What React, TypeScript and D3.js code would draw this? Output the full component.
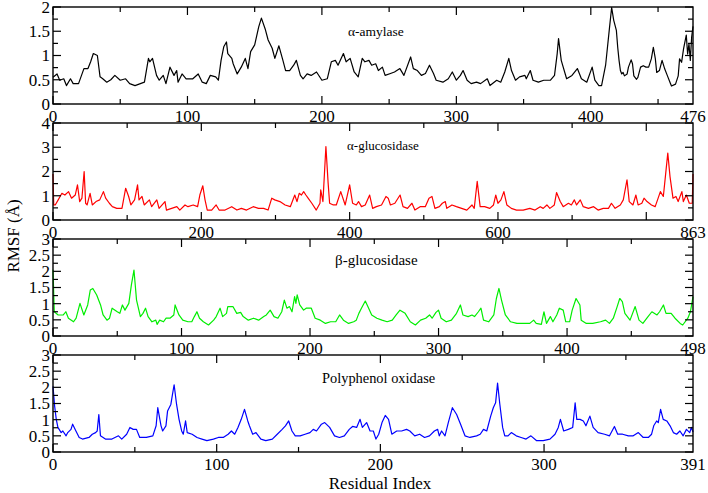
import React from "react";
import * as d3 from "d3";

// ---------- data (residue index, RMSF in Å) ----------
const amylase: [number, number][] = [
  [0,0.55],[3,0.62],[5,0.49],[8,0.52],[10,0.38],[13,0.52],[15,0.42],[19,0.42],[23,0.73],[26,0.73],[28,0.87],[30,1.04],[33,1.0],[35,0.56],[37,0.52],[40,0.45],[43,0.5],[46,0.59],[50,0.49],[54,0.52],[57,0.42],[61,0.38],[65,0.42],[68,0.45],[71,0.94],[72,0.87],[74,0.94],[77,0.59],[79,0.49],[82,0.59],[84,0.42],[87,0.76],[90,0.59],[92,0.69],[93,0.45],[96,0.62],[99,0.52],[104,0.52],[108,0.62],[111,0.45],[114,0.42],[117,0.59],[121,0.56],[123,0.49],[125,0.9],[127,1.18],[129,1.28],[130,1.04],[133,0.94],[134,0.83],[137,0.62],[140,0.76],[143,0.94],[145,0.73],[147,1.08],[150,1.22],[153,1.59],[155,1.77],[158,1.53],[160,1.32],[163,1.15],[165,0.94],[168,1.2],[171,0.9],[173,0.69],[176,0.69],[179,0.8],[181,0.9],[184,0.59],[186,0.52],[189,0.62],[192,0.59],[196,0.66],[200,0.49],[204,0.52],[207,0.87],[210,0.9],[212,0.8],[216,1.04],[218,0.87],[221,0.94],[224,0.66],[227,0.56],[230,0.94],[232,0.87],[235,0.9],[237,0.8],[240,0.83],[242,0.69],[245,0.76],[247,0.59],[251,0.63],[254,0.66],[258,0.73],[261,0.59],[266,0.97],[268,0.73],[271,0.69],[274,0.59],[277,0.63],[280,0.8],[283,0.63],[285,0.49],[290,0.45],[294,0.52],[297,0.66],[300,0.49],[303,0.59],[305,0.69],[308,0.49],[311,0.42],[315,0.45],[318,0.42],[323,0.52],[325,0.38],[330,0.49],[333,0.45],[336,0.66],[339,0.94],[341,0.69],[344,0.49],[347,0.56],[351,0.59],[352,0.52],[355,0.69],[357,0.49],[361,0.45],[365,0.49],[370,0.49],[373,0.59],[375,1.04],[376,1.35],[378,0.9],[382,0.52],[386,0.59],[390,0.73],[393,0.52],[397,0.45],[401,0.76],[403,0.49],[406,0.38],[408,0.38],[411,0.8],[414,1.6],[415.5,1.99],[417,1.73],[419,1.52],[420,1.17],[421,0.9],[422,0.69],[423,0.62],[424,0.65],[425,0.58],[427,0.62],[428,0.76],[430,0.91],[431,0.83],[432,0.58],[434,0.51],[435,0.55],[437,0.76],[439,0.79],[441,0.76],[443,0.76],[445,0.93],[446.5,1.17],[448,0.93],[449,0.65],[451,0.69],[453,0.9],[455,0.72],[457,0.58],[459,0.44],[460,0.37],[463,0.41],[465,0.58],[466,0.93],[467.5,0.86],[469,1.14],[471,1.42],[472,1.03],[473,1.24],[474,0.9],[475,1.38],[476,1.6],
];

const alphaGlucosidase: [number, number][] = [
  [0,1.9],[1,0.62],[3,0.62],[7,0.83],[12,1.1],[16,1.03],[21,1.17],[25,0.9],[30,1.03],[33,1.45],[36,0.76],[39,0.9],[42,2.0],[44,0.69],[46,0.62],[50,1.1],[53,0.62],[58,0.76],[63,0.83],[68,1.17],[71,0.9],[76,0.69],[80,0.55],[86,0.48],[93,0.48],[98,1.31],[102,0.97],[105,0.62],[110,0.83],[114,1.45],[116,0.83],[120,0.97],[123,0.62],[130,0.83],[133,0.55],[140,0.83],[143,0.48],[151,0.76],[153,0.41],[160,0.48],[167,0.55],[171,0.41],[178,0.62],[182,0.55],[189,0.62],[195,0.55],[198,1.03],[202,1.41],[205,0.83],[208,0.41],[214,0.41],[220,0.62],[224,0.41],[232,0.41],[241,0.55],[248,0.41],[254,0.48],[261,0.41],[270,0.55],[277,0.48],[284,0.48],[290,0.41],[295,0.9],[299,0.83],[306,0.76],[313,0.62],[320,0.55],[326,1.03],[329,0.76],[332,1.1],[335,1.03],[338,1.17],[341,1.03],[344,0.9],[349,0.69],[355,0.41],[360,0.69],[361,1.24],[364,0.76],[368,3.03],[371,1.52],[373,0.69],[378,0.62],[382,0.62],[388,1.17],[394,0.62],[400,1.45],[404,0.69],[409,0.62],[412,0.76],[416,0.55],[421,0.62],[427,1.03],[431,0.48],[436,0.55],[443,0.62],[449,0.97],[452,0.9],[455,0.62],[461,0.69],[468,1.03],[472,0.55],[478,0.48],[484,0.69],[488,0.41],[495,0.55],[502,0.55],[507,0.9],[511,0.97],[515,0.48],[521,0.55],[525,0.69],[529,0.76],[531,0.48],[538,0.62],[544,0.55],[551,0.48],[558,0.41],[565,0.62],[568,0.48],[572,1.59],[576,0.55],[582,0.55],[589,0.48],[594,0.62],[597,1.03],[600,0.69],[604,0.83],[608,1.17],[612,0.62],[618,0.48],[625,0.41],[634,0.41],[643,0.48],[650,0.41],[657,0.55],[661,0.48],[666,0.62],[670,0.48],[676,0.62],[679,1.13],[684,0.76],[688,0.55],[695,0.69],[699,0.62],[703,0.83],[706,0.62],[711,0.83],[715,0.55],[722,0.48],[729,0.55],[735,0.41],[742,0.48],[749,0.48],[753,0.69],[758,0.48],[765,0.62],[769,0.83],[774,1.66],[777,0.76],[782,0.62],[786,1.03],[789,0.62],[794,0.69],[797,0.9],[801,0.76],[807,0.62],[812,0.55],[816,0.9],[819,1.17],[823,0.97],[826,1.86],[829,2.76],[832,1.79],[836,0.9],[840,0.97],[843,0.76],[848,1.17],[850,0.76],[854,1.03],[858,0.69],[862,0.69],[863,1.9],
];

const betaGlucosidase: [number, number][] = [
  [0,2.05],[1,0.75],[4,0.65],[8,0.65],[10,0.75],[12,0.55],[16,0.44],[18,0.55],[21,1.01],[24,0.65],[27,0.96],[29,1.42],[31,1.47],[34,1.27],[37,0.96],[39,0.65],[42,0.49],[44,0.55],[46,0.86],[50,0.75],[52,0.7],[54,0.96],[56,0.8],[59,1.01],[61,1.58],[63,2.04],[65,1.11],[68,0.6],[70,0.7],[72,0.86],[74,0.6],[77,0.44],[80,0.49],[81,0.36],[83,0.49],[86,0.44],[88,0.55],[91,0.55],[94,0.65],[95,0.96],[98,0.65],[101,0.49],[105,0.44],[108,0.44],[110,0.6],[112,0.75],[114,0.55],[117,0.44],[121,0.34],[125,0.49],[127,0.6],[130,0.86],[132,0.6],[135,0.7],[136,0.91],[140,0.91],[143,0.7],[146,0.73],[148,0.6],[152,0.49],[156,0.55],[160,0.49],[164,0.6],[166,0.65],[169,0.8],[172,0.6],[175,0.55],[178,0.75],[180,1.11],[182,0.86],[184,0.91],[186,0.75],[188,1.22],[189,1.01],[190,1.27],[192,0.96],[195,0.8],[197,0.86],[201,0.86],[204,0.55],[208,0.49],[212,0.39],[216,0.44],[220,0.44],[223,0.65],[226,0.49],[230,0.39],[234,0.44],[236,0.49],[238,0.7],[240,0.86],[243,1.08],[245,0.91],[248,0.65],[252,0.55],[256,0.49],[260,0.44],[264,0.49],[267,0.65],[270,0.8],[274,0.7],[278,0.44],[282,0.34],[286,0.49],[290,0.55],[293,0.65],[295,0.55],[298,0.73],[300,0.8],[302,0.55],[306,0.44],[310,0.49],[314,0.7],[317,0.96],[319,0.65],[323,0.6],[326,0.65],[328,0.6],[331,0.75],[333,0.86],[335,0.49],[339,0.44],[343,0.65],[345,1.16],[347,1.47],[349,1.11],[352,0.65],[356,0.44],[361,0.39],[366,0.39],[371,0.39],[374,0.49],[376,0.39],[380,0.36],[382,0.75],[384,0.39],[387,0.6],[389,0.44],[392,0.65],[394,0.86],[397,0.8],[399,0.44],[402,0.44],[404,0.8],[407,1.16],[410,0.96],[411,0.49],[415,0.39],[420,0.39],[426,0.44],[430,0.49],[433,0.39],[436,0.55],[439,0.91],[441,1.16],[443,1.06],[445,0.7],[449,0.49],[453,0.91],[456,0.49],[459,0.39],[463,0.6],[466,0.75],[470,0.65],[472,0.75],[475,0.96],[477,0.7],[481,0.7],[484,0.55],[488,0.39],[490,0.34],[494,0.55],[496,0.75],[498,1.22],
];

const polyphenolOxidase: [number, number][] = [
  [0,2.03],[1,1.42],[2,1.01],[3,0.76],[5,0.6],[6,0.65],[8,0.5],[9,0.6],[11,0.7],[12,0.86],[14,0.65],[16,0.45],[18,0.4],[22,0.45],[24,0.55],[26,0.6],[27,0.65],[28,1.16],[29,0.5],[32,0.4],[36,0.4],[40,0.5],[42,0.4],[45,0.55],[47,0.76],[49,0.7],[51,0.7],[53,0.45],[57,0.45],[61,0.5],[63,0.81],[64,1.37],[66,0.81],[67,0.65],[69,0.81],[70,1.27],[72,1.47],[73,1.78],[74,2.08],[75.5,1.47],[77,1.01],[78.6,0.65],[79.6,0.55],[81,0.96],[82,0.6],[85,0.55],[88,0.45],[91,0.4],[94,0.35],[98,0.4],[101,0.45],[104,0.45],[107,0.55],[109,0.65],[111,0.55],[113,0.76],[115,1.01],[117,1.32],[119,0.96],[120,0.81],[122,0.55],[124,0.6],[127,0.4],[130,0.35],[134,0.4],[137,0.55],[140,0.7],[142,0.81],[144,0.96],[146,0.65],[148,0.5],[151,0.5],[154,0.55],[157,0.6],[159,0.7],[161,0.65],[164,0.86],[166,0.91],[169,0.76],[172,0.5],[175,0.45],[178,0.5],[181,0.7],[183,0.79],[185.5,0.76],[187.6,1.01],[189,0.76],[191.6,0.91],[193.7,0.65],[195.7,0.65],[197.3,0.4],[199,0.55],[201,0.91],[203,1.13],[205,1.01],[207,0.55],[210,0.65],[213,0.65],[216,0.7],[218,0.65],[221,0.5],[224,0.55],[227,0.45],[230,0.5],[233,0.65],[235,0.7],[236,0.5],[237.4,0.65],[239.5,0.5],[241.5,0.91],[244,1.37],[246.6,1.16],[249,0.86],[251.7,0.5],[254.7,0.45],[258.8,0.5],[261,0.55],[263,0.7],[265,0.65],[267.4,1.11],[269,1.37],[270.4,1.52],[271.6,2.13],[273,1.47],[274.7,0.76],[276,0.5],[278,0.5],[280,0.6],[283,0.5],[286,0.45],[289,0.4],[292,0.5],[295.5,0.35],[299.5,0.35],[303.6,0.4],[306.7,0.55],[308.7,0.76],[310,1.01],[312,0.65],[314.8,0.7],[317.5,0.76],[319,1.52],[320,1.01],[322,1.01],[324,0.96],[325.6,0.81],[328,1.11],[330,0.76],[333,0.6],[337,0.55],[340,0.5],[343,0.79],[345,0.55],[348,0.55],[351.5,0.5],[354.5,0.5],[357.6,0.6],[360.6,0.45],[363.7,0.45],[365.7,0.55],[367,0.81],[368.8,0.96],[369.8,0.91],[371.2,1.32],[372.8,1.01],[375,0.96],[377,0.81],[379,0.6],[381,0.55],[383,0.65],[385,0.5],[387,0.7],[389,0.6],[390,0.76],[391,0.62],
];

const seriesData = [amylase, alphaGlucosidase, betaGlucosidase, polyphenolOxidase];
const titles = ["α-amylase", "α-glucosidase", "β-glucosidase", "Polyphenol oxidase"];
const xMaxes = [476, 863, 498, 391];
const yMaxes = [2, 4, 3, 3];
const yLabelSteps = [0.5, 1, 0.5, 0.5];
const xLabelSteps = [100, 200, 100, 100];
const yAxisTitle = "RMSF (Å)";
const xAxisTitle = "Residual Index";

// ---------- styling ----------
const colors = ["#000000", "#ff0000", "#00ee00", "#0000ff"];
const titleX = [348, 347, 335, 322];
const titleDy = [29, 27, 26, 28];
const titleSize = [13.5, 13, 15, 14.4];

const W = 708;
const H = 493;
const LEFT = 53;
const RIGHT = 693;
const TOPS = [7, 123, 239, 355];
const PH = 97;
const FONT = "'Liberation Serif', 'Times New Roman', Times, serif";
const MAJOR = 8;
const MINOR = 5;

function fmt(v: number) {
  return String(+v.toFixed(2));
}

function Panel({ i }: { i: number }) {
  const top = TOPS[i];
  const bottom = top + PH;
  const xMax = xMaxes[i];
  const yMax = yMaxes[i];
  const x = d3.scaleLinear().domain([0, xMax]).range([LEFT, RIGHT]);
  const y = d3.scaleLinear().domain([0, yMax]).range([bottom, top]);
  const line = d3
    .line<[number, number]>()
    .x((d) => x(d[0]))
    .y((d) => y(d[1]));

  const xs = xLabelSteps[i];
  const xMajor = d3.range(0, xMax + 0.001, xs);
  const xMinor = d3.range(xs / 2, xMax, xs);
  const ys = yLabelSteps[i];
  const yMajor = d3.range(0, yMax + 0.001, ys);
  const yMinor = d3.range(ys / 2, yMax, ys);
  const xLabels = [...xMajor.filter((v) => xMax - v > xs * 0.4), xMax];

  return (
    <g>
      <path d={line(seriesData[i]) || ""} fill="none" stroke={colors[i]} strokeWidth={1.2} strokeLinejoin="round" />
      <rect x={LEFT} y={top} width={RIGHT - LEFT} height={PH} fill="none" stroke="#000" strokeWidth={1.4} />
      {xMajor.map((v) => (
        <g key={"xM" + v}>
          <line x1={x(v)} x2={x(v)} y1={bottom} y2={bottom - MAJOR} stroke="#000" strokeWidth={1.2} />
          <line x1={x(v)} x2={x(v)} y1={top} y2={top + MAJOR} stroke="#000" strokeWidth={1.2} />
        </g>
      ))}
      {xMinor.map((v) => (
        <g key={"xm" + v}>
          <line x1={x(v)} x2={x(v)} y1={bottom} y2={bottom - MINOR} stroke="#000" strokeWidth={1.2} />
          <line x1={x(v)} x2={x(v)} y1={top} y2={top + MINOR} stroke="#000" strokeWidth={1.2} />
        </g>
      ))}
      {yMajor.map((v) => (
        <g key={"yM" + v}>
          <line x1={LEFT} x2={LEFT + MAJOR} y1={y(v)} y2={y(v)} stroke="#000" strokeWidth={1.2} />
          <line x1={RIGHT} x2={RIGHT - MAJOR} y1={y(v)} y2={y(v)} stroke="#000" strokeWidth={1.2} />
        </g>
      ))}
      {yMinor.map((v) => (
        <g key={"ym" + v}>
          <line x1={LEFT} x2={LEFT + MINOR} y1={y(v)} y2={y(v)} stroke="#000" strokeWidth={1.2} />
          <line x1={RIGHT} x2={RIGHT - MINOR} y1={y(v)} y2={y(v)} stroke="#000" strokeWidth={1.2} />
        </g>
      ))}
      {yMajor.map((v) => (
        <text key={"yl" + v} x={LEFT - 3} y={y(v)} dy="0.35em" textAnchor="end" fontSize={17} fontFamily={FONT} fill="#000">
          {fmt(v)}
        </text>
      ))}
      {xLabels.map((v) => (
        <text key={"xl" + v} x={x(v)} y={bottom + 18} textAnchor="middle" fontSize={17} fontFamily={FONT} fill="#000">
          {fmt(v)}
        </text>
      ))}
      <text x={titleX[i]} y={top + titleDy[i]} fontSize={titleSize[i]} fontFamily={FONT} fill="#000">
        {titles[i]}
      </text>
    </g>
  );
}

export default function App() {
  return (
    <svg width={W} height={H} viewBox={`0 0 ${W} ${H}`} style={{ position: "absolute", left: 0, top: 0, background: "#fff" }}>
      <rect x={0} y={0} width={W} height={H} fill="#fff" />
      {seriesData.map((_, i) => (
        <Panel key={i} i={i} />
      ))}
      <text transform="translate(19,236) rotate(-90)" textAnchor="middle" fontSize={17} fontFamily={FONT} fill="#000">
        {yAxisTitle}
      </text>
      <text x={380} y={489} textAnchor="middle" fontSize={17} fontFamily={FONT} fill="#000">
        {xAxisTitle}
      </text>
    </svg>
  );
}
